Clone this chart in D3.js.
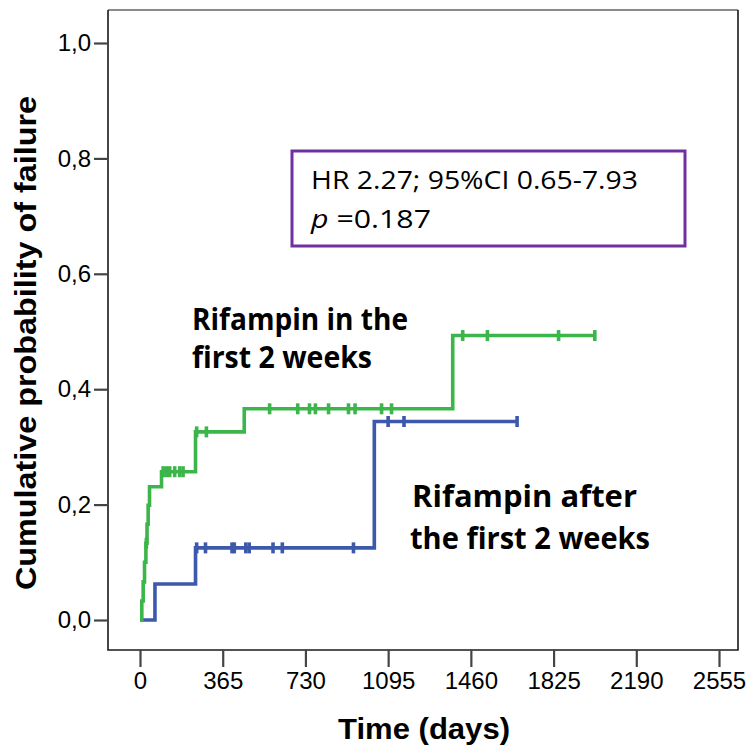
<!DOCTYPE html>
<html>
<head>
<meta charset="utf-8">
<script src="https://cdn.jsdelivr.net/npm/d3@7"></script>
<style>
  body { margin: 0; background: #fff; }
  svg { display: block; }
</style>
</head>
<body>
<div id="chart"></div>
<script>
// Data
var xTicks = [0, 365, 730, 1095, 1460, 1825, 2190, 2555];
var yTicks = [0, 0.2, 0.4, 0.6, 0.8, 1.0];

// Rifampin in the first 2 weeks (green)
var greenTimes = [0, 8, 14, 20, 26, 31, 36, 42, 95, 245, 460, 1380];
var greenProb  = [0, 0.033, 0.066, 0.10, 0.133, 0.166, 0.199, 0.231, 0.257, 0.326, 0.366, 0.493];
var greenCensor = [28, 102, 117, 131, 153, 175, 190, 250, 293, 572, 696, 748, 774, 832, 920, 949, 1066, 1110, 1424, 1533, 1847, 2007];
var greenEnd = 2007;

// Rifampin after the first 2 weeks (blue)
var blueTimes = [0, 66, 245, 1034];
var blueProb  = [0, 0.0625, 0.125, 0.344];
var blueCensor = [250, 289, 406, 416, 467, 482, 587, 628, 942, 1095, 1165, 1664];
var blueEnd = 1664;

var width = 752, height = 748;
var frame = { left: 108, right: 738, top: 10, bottom: 650 };

var svg = d3.select('#chart').append('svg')
    .attr('width', width)
    .attr('height', height);

var x = d3.scaleLinear().domain([0, 2555]).range([140, 719]);
var y = d3.scaleLinear().domain([0, 1]).range([620, 43]);

// frame
svg.append('line').attr('x1', frame.left).attr('x2', frame.right).attr('y1', frame.top).attr('y2', frame.top)
    .attr('stroke', '#8a8a8a').attr('stroke-width', 2);
svg.append('path')
    .attr('d', 'M' + frame.left + ',' + frame.top + 'V' + frame.bottom + 'H' + frame.right + 'V' + frame.top)
    .attr('fill', 'none').attr('stroke', '#1a1a1a').attr('stroke-width', 1.6);

// axes
var xAxis = d3.axisBottom(x).tickValues(xTicks).tickSize(17).tickPadding(5).tickFormat(d3.format('d'));
var gx = svg.append('g').attr('transform', 'translate(0,' + frame.bottom + ')').call(xAxis);
gx.select('.domain').remove();

var yAxis = d3.axisLeft(y).tickValues(yTicks).tickSize(14).tickPadding(3)
    .tickFormat(function (d) { return d3.format('.1f')(d).replace('.', ','); });
var gy = svg.append('g').attr('transform', 'translate(' + frame.left + ',0)').call(yAxis);
gy.select('.domain').remove();

svg.selectAll('.tick line').attr('stroke', '#444').attr('stroke-width', 2.2);
svg.selectAll('.tick text')
    .attr('fill', '#000')
    .style('font-family', '"Liberation Sans", Arial, sans-serif')
    .style('font-size', '24px');

// step curves
function stepPath(times, probs, end) {
    var pts = times.map(function (t, i) { return [x(t), y(probs[i])]; });
    pts.push([x(end), y(probs[probs.length - 1])]);
    return d3.line().curve(d3.curveStepAfter)(pts);
}
function probAt(times, probs, t) {
    var i = d3.bisectRight(times, t) - 1;
    return probs[Math.max(i, 0)];
}

function drawCurve(times, probs, censor, end, color) {
    svg.append('path')
        .attr('d', stepPath(times, probs, end))
        .attr('fill', 'none')
        .attr('stroke', color)
        .attr('stroke-width', 3.6);
    svg.append('g').selectAll('line')
        .data(censor)
        .enter().append('line')
        .attr('x1', function (d) { return x(d); })
        .attr('x2', function (d) { return x(d); })
        .attr('y1', function (d) { return y(probAt(times, probs, d)) - 5.5; })
        .attr('y2', function (d) { return y(probAt(times, probs, d)) + 5.5; })
        .attr('stroke', color)
        .attr('stroke-width', 3.6);
}

drawCurve(blueTimes, blueProb, blueCensor, blueEnd, '#3d59ab');
drawCurve(greenTimes, greenProb, greenCensor, greenEnd, '#3cb54a');

// axis titles
svg.append('text')
    .attr('x', 338).attr('y', 739)
    .attr('textLength', 172).attr('lengthAdjust', 'spacingAndGlyphs')
    .style('font-family', '"Liberation Sans", Arial, sans-serif')
    .style('font-weight', 'bold').style('font-size', '29px')
    .text('Time (days)');

svg.append('text')
    .attr('transform', 'translate(36,590) rotate(-90)')
    .attr('textLength', 494).attr('lengthAdjust', 'spacingAndGlyphs')
    .style('font-family', '"Liberation Sans", Arial, sans-serif')
    .style('font-weight', 'bold').style('font-size', '29px')
    .text('Cumulative probability of failure');

// group labels
var labelFont = '"Open Sans", "Noto Sans", sans-serif';
function label(txt, lx, ly, len) {
    svg.append('text')
        .attr('x', lx).attr('y', ly)
        .attr('textLength', len).attr('lengthAdjust', 'spacingAndGlyphs')
        .style('font-family', labelFont)
        .style('font-weight', 'bold').style('font-size', '30px')
        .text(txt);
}
label('Rifampin in the', 192, 330, 216);
label('first 2 weeks', 192, 368, 180);
label('Rifampin after', 412, 507, 225);
label('the first 2 weeks', 410, 549, 240);

// HR box
svg.append('rect')
    .attr('x', 292).attr('y', 151)
    .attr('width', 393).attr('height', 95)
    .attr('fill', '#fff')
    .attr('stroke', '#7030a0')
    .attr('stroke-width', 3);

svg.append('text')
    .attr('x', 311).attr('y', 189)
    .attr('textLength', 327).attr('lengthAdjust', 'spacingAndGlyphs')
    .style('font-family', labelFont).style('font-size', '25px')
    .text('HR 2.27; 95%CI 0.65-7.93');

var pLine = svg.append('text')
    .attr('x', 311).attr('y', 228)
    .attr('textLength', 120).attr('lengthAdjust', 'spacingAndGlyphs')
    .style('font-family', labelFont).style('font-size', '25px');
pLine.append('tspan').style('font-style', 'italic').text('p');
pLine.append('tspan').text(' =0.187');
</script>
</body>
</html>
